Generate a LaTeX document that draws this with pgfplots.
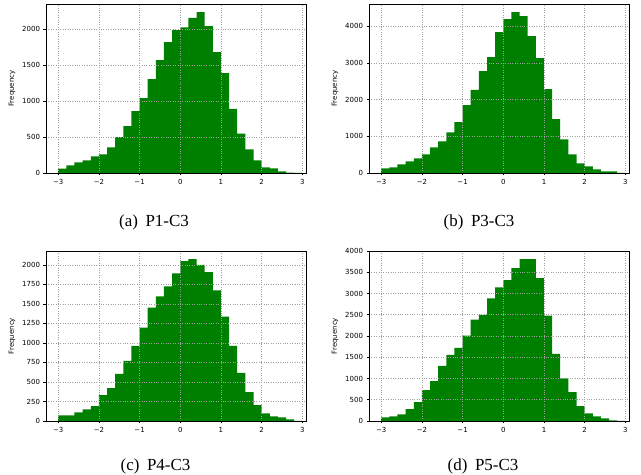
\documentclass[border=0pt]{standalone}
\usepackage{fontspec}
\setmainfont{Liberation Serif}
\newfontfamily\mplfont{DejaVu Sans}
\usepackage{pgfplots}
\pgfplotsset{compat=1.18}
\definecolor{mplgreen}{HTML}{008000}

\pgfplotsset{
  histo/.style={
    scale only axis, width=260bp, height=169bp,
    anchor=south west,
    xmin=-3.3, xmax=3.09, ymin=0,
    xtick={-3,-2,-1,0,1,2,3},
    xticklabels={−3,−2,−1,0,1,2,3},
    grid=major,
    major grid style={gray!75, dotted, line width=0.5bp},
    axis on top,
    tick align=outside, tick pos=left,
    major tick length=2.5bp,
    every tick/.style={black, line width=0.6bp},
    axis line style={line width=0.8bp},
    ticklabel style={font=\mplfont\fontsize{7}{8}\selectfont},
    /pgf/number format/assume math mode=true,
    /pgf/number format/1000 sep={},
    scaled y ticks=false,
    ylabel=Frequency,
    ylabel style={font=\mplfont\fontsize{7}{8}\selectfont},
  },
  bars/.style={ybar interval, fill=mplgreen, draw=none},
}

\begin{document}
\begin{tikzpicture}
\path[use as bounding box] (0,0) rectangle (641bp,475bp);

% (a) P1-C3
\begin{axis}[histo, at={(46bp,302bp)}, ymax=2353, ytick={0,500,1000,1500,2000}]
\addplot[bars] coordinates {
(-3.0,60) (-2.8,107) (-2.6,149) (-2.4,177) (-2.2,233) (-2.0,260)
(-1.8,358) (-1.6,498) (-1.4,651) (-1.2,860) (-1.0,1042) (-0.8,1307)
(-0.6,1572) (-0.4,1823) (-0.2,1990) (0.0,2027) (0.2,2158) (0.4,2241)
(0.6,2046) (0.8,1683) (1.0,1390) (1.2,893) (1.4,549) (1.6,330)
(1.8,177) (2.0,79) (2.2,65) (2.4,23) (2.6,5) (2.8,0) (3.0,0)};
\end{axis}

% (b) P3-C3
\begin{axis}[histo, at={(369bp,302bp)}, ymax=4610, ytick={0,1000,2000,3000,4000}]
\addplot[bars] coordinates {
(-3.0,128) (-2.8,155) (-2.6,237) (-2.4,319) (-2.2,401) (-2.0,510)
(-1.8,701) (-1.6,865) (-1.4,1111) (-1.2,1385) (-1.0,1849) (-0.8,2268)
(-0.6,2778) (-0.4,3161) (-0.2,3844) (0.0,4200) (0.2,4391) (0.4,4282)
(0.6,3735) (0.8,3134) (1.0,2287) (1.2,1467) (1.4,920) (1.6,510)
(1.8,264) (2.0,182) (2.2,100) (2.4,46) (2.6,46) (2.8,0) (3.0,0)};
\end{axis}

% (c) P4-C3
\begin{axis}[histo, at={(46bp,54bp)}, height=170bp, ymax=2177,
  ytick={0,250,500,750,1000,1250,1500,1750,2000}]
\addplot[bars] coordinates {
(-3.0,73) (-2.8,73) (-2.6,112) (-2.4,150) (-2.2,189) (-2.0,331)
(-1.8,421) (-1.6,602) (-1.4,770) (-1.2,963) (-1.0,1195) (-0.8,1453)
(-0.6,1595) (-0.4,1724) (-0.2,1892) (0.0,2047) (0.2,2073) (0.4,2000)
(0.6,1905) (0.8,1673) (1.0,1337) (1.2,963) (1.4,615) (1.6,370)
(1.8,202) (2.0,99) (2.2,60) (2.4,47) (2.6,21) (2.8,0) (3.0,0)};
\end{axis}

% (d) P5-C3
\begin{axis}[histo, at={(369bp,54bp)}, height=170bp, ymax=4000,
  ytick={0,500,1000,1500,2000,2500,3000,3500,4000}]
\addplot[bars] coordinates {
(-3.0,87) (-2.8,111) (-2.6,158) (-2.4,277) (-2.2,443) (-2.0,727)
(-1.8,941) (-1.6,1296) (-1.4,1557) (-1.2,1723) (-1.0,2008) (-0.8,2387)
(-0.6,2498) (-0.4,2885) (-0.2,3146) (0.0,3312) (0.2,3597) (0.4,3810)
(0.6,3810) (0.8,3360) (1.0,2482) (1.2,1581) (1.4,1004) (1.6,680)
(1.8,348) (2.0,182) (2.2,111) (2.4,63) (2.6,16) (2.8,0) (3.0,0)};
\end{axis}

\begin{scope}[every node/.style={anchor=base, inner sep=0pt, font=\fontsize{17}{20}\selectfont}]
\node at (154bp,248bp) {(a)\hspace{0.45em}P1-C3};
\node at (479bp,248bp) {(b)\hspace{0.45em}P3-C3};
\node at (155.5bp,4.5bp) {(c)\hspace{0.45em}P4-C3};
\node at (483bp,4.5bp) {(d)\hspace{0.45em}P5-C3};
\end{scope}
\end{tikzpicture}
\end{document}
